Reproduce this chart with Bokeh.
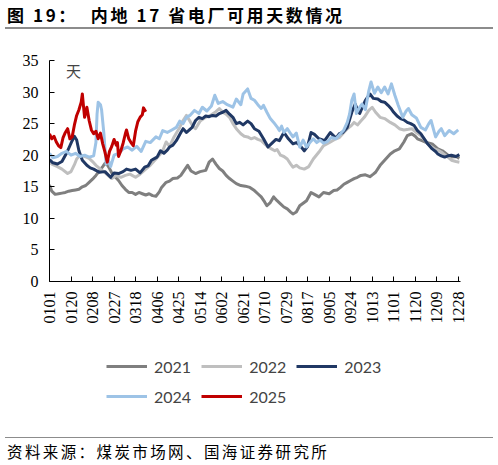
import math
from bokeh.plotting import figure
from bokeh.layouts import column
from bokeh.models import Range1d, Label, Legend, LegendItem, FixedTicker, Div
from bokeh.embed import file_html
from bokeh.resources import INLINE

tick_days = [1, 20, 39, 58, 77, 96, 115, 134, 153, 172, 191, 210, 229, 248, 267, 286, 305, 324, 343, 362]
tick_labels = ["0101", "0120", "0208", "0227", "0318", "0406", "0425", "0514", "0602", "0621",
               "0710", "0729", "0817", "0905", "0924", "1013", "1101", "1120", "1209", "1228"]

# (day of year, days of coal stock)
s2021 = [(1, 15.3), (3, 14.3), (6, 13.8), (9, 13.9), (12, 14.0), (15, 14.1), (18, 14.3), (21, 14.4),
         (24, 14.5), (27, 14.6), (30, 15.0), (33, 15.2), (36, 15.7), (39, 16.2), (42, 16.8), (45, 17.5),
         (48, 18.2), (50, 18.7), (52, 18.5), (54, 17.9), (56, 17.2), (59, 16.6), (62, 16.0), (65, 15.2),
         (68, 14.6), (71, 14.1), (74, 14.1), (77, 13.8), (80, 14.1), (83, 13.9), (86, 13.7), (89, 13.9),
         (92, 13.6), (95, 13.5), (98, 14.2), (100, 14.9), (104, 15.7), (107, 15.9), (110, 16.3), (114, 16.4),
         (117, 16.8), (120, 17.6), (123, 18.4), (126, 17.5), (130, 17.1), (134, 17.4), (139, 17.6), (142, 18.9),
         (145, 19.4), (148, 18.6), (151, 17.9), (154, 17.5), (157, 16.8), (160, 16.3), (163, 15.9), (166, 15.5),
         (170, 15.2), (174, 15.1), (178, 14.9), (182, 14.4), (185, 13.9), (188, 13.4), (191, 12.6), (193, 12.0),
         (196, 12.5), (199, 13.4), (202, 12.8), (205, 12.3), (208, 11.8), (211, 11.5), (214, 11.0), (216, 10.7),
         (219, 11.0), (222, 12.0), (225, 12.4), (228, 12.8), (232, 14.1), (235, 13.8), (239, 13.4), (243, 14.1),
         (248, 13.9), (252, 14.4), (255, 14.5), (258, 14.9), (261, 15.4), (264, 15.7), (267, 16.0), (270, 16.3),
         (273, 16.5), (276, 16.8), (280, 16.9), (284, 16.6), (287, 17.0), (289, 17.3), (293, 18.4), (297, 19.2),
         (302, 20.2), (306, 20.7), (310, 21.0), (314, 22.1), (317, 23.1), (321, 23.4), (324, 23.0), (326, 22.6),
         (330, 22.3), (334, 22.0), (339, 21.8), (344, 21.0), (348, 20.7), (353, 20.0), (356, 19.7), (360, 19.8),
         (363, 19.5)]

s2022 = [(1, 18.9), (4, 18.5), (8, 18.2), (12, 17.8), (17, 17.1), (20, 17.4), (23, 18.5), (25, 19.4),
         (28, 20.0), (32, 19.8), (36, 19.5), (39, 19.0), (42, 18.4), (46, 17.8), (51, 17.1), (56, 16.3),
         (60, 16.8), (64, 16.5), (68, 16.8), (72, 17.0), (77, 16.5), (81, 17.0), (86, 17.8), (90, 18.4),
         (95, 19.4), (98, 20.0), (101, 20.7), (104, 22.1), (107, 21.4), (111, 22.9), (114, 23.8), (116, 24.4),
         (119, 25.5), (122, 26.3), (125, 25.4), (127, 24.8), (130, 24.2), (134, 25.4), (139, 26.0), (144, 26.4),
         (148, 26.9), (151, 27.4), (154, 26.8), (157, 26.5), (160, 26.0), (163, 25.0), (166, 24.2), (170, 23.4),
         (173, 23.0), (176, 22.9), (179, 22.6), (182, 22.8), (185, 22.5), (188, 22.3), (191, 21.8), (194, 21.3),
         (197, 21.0), (200, 20.7), (202, 20.9), (205, 20.0), (208, 19.8), (211, 19.4), (214, 18.6), (216, 18.1),
         (219, 18.4), (222, 18.0), (226, 17.8), (230, 18.2), (234, 19.4), (239, 20.5), (243, 21.5), (248, 22.0),
         (251, 22.3), (254, 22.6), (257, 22.8), (260, 23.4), (264, 24.2), (267, 24.6), (270, 25.2), (273, 24.8),
         (276, 25.4), (279, 26.0), (283, 27.1), (286, 27.6), (289, 26.8), (293, 26.0), (297, 25.8), (302, 25.2),
         (306, 24.8), (310, 24.2), (314, 24.0), (318, 24.1), (321, 24.2), (325, 23.6), (329, 23.1), (332, 22.5),
         (335, 21.8), (338, 21.4), (341, 21.0), (344, 20.8), (347, 20.5), (350, 20.1), (353, 19.7), (356, 19.2),
         (360, 19.0), (363, 18.9)]

s2023 = [(1, 19.3), (4, 18.8), (8, 18.6), (12, 19.0), (16, 20.3), (19, 21.5), (21, 22.3), (23, 23.0),
         (25, 22.4), (27, 20.7), (30, 19.2), (34, 18.4), (37, 18.0), (40, 17.8), (45, 17.3), (50, 17.4),
         (55, 16.5), (58, 17.2), (62, 17.1), (66, 17.4), (69, 17.8), (73, 17.6), (77, 17.8), (81, 17.2),
         (85, 18.1), (88, 18.3), (91, 19.2), (94, 19.5), (96, 19.7), (99, 20.7), (102, 20.3), (105, 20.8),
         (107, 21.3), (110, 21.6), (113, 22.3), (117, 23.6), (119, 24.2), (122, 23.6), (125, 24.1), (127, 24.4),
         (130, 25.5), (133, 26.0), (136, 25.8), (139, 26.2), (142, 26.1), (145, 26.3), (148, 26.2), (151, 26.6),
         (154, 26.8), (157, 27.1), (160, 26.5), (163, 26.0), (166, 25.0), (169, 25.2), (172, 24.8), (176, 25.4),
         (179, 25.0), (182, 24.2), (186, 23.8), (190, 22.6), (194, 21.3), (198, 22.0), (201, 22.5), (204, 22.3),
         (208, 23.6), (212, 22.6), (216, 21.8), (219, 22.0), (222, 21.6), (226, 20.7), (229, 21.4), (232, 23.6),
         (235, 23.3), (239, 22.6), (244, 22.3), (249, 23.6), (254, 22.7), (257, 23.4), (260, 23.6), (264, 24.4),
         (266, 25.6), (268, 26.8), (271, 28.1), (273, 27.2), (275, 26.6), (278, 27.9), (280, 28.7), (284, 29.7),
         (287, 29.0), (291, 28.9), (294, 28.5), (297, 28.4), (300, 27.9), (303, 27.3), (305, 26.8), (308, 26.2),
         (311, 25.8), (314, 25.6), (317, 25.2), (320, 25.0), (323, 24.7), (326, 23.9), (329, 23.4), (332, 22.6),
         (335, 21.8), (339, 21.0), (342, 20.6), (344, 20.2), (347, 19.9), (350, 19.7), (353, 19.9), (356, 20.0),
         (360, 19.8), (363, 20.1)]

s2024 = [(1, 20.3), (4, 19.6), (8, 19.8), (12, 20.3), (16, 20.6), (20, 20.0), (24, 20.3), (28, 19.8),
         (32, 20.0), (36, 19.7), (40, 19.9), (42, 22.0), (43, 26.5), (44, 28.4), (46, 28.0), (47, 27.2),
         (49, 23.5), (51, 18.6), (53, 19.2), (55, 18.2), (58, 20.0), (62, 20.3), (66, 21.0), (70, 21.3),
         (74, 20.8), (78, 21.4), (82, 20.6), (86, 22.2), (90, 22.0), (95, 22.9), (98, 22.6), (101, 23.9),
         (105, 23.6), (109, 24.0), (113, 24.4), (116, 25.4), (119, 25.0), (122, 26.0), (125, 26.3), (129, 27.1),
         (133, 26.6), (136, 27.6), (140, 27.0), (144, 27.8), (147, 29.5), (150, 28.2), (154, 28.5), (158, 28.0),
         (163, 27.6), (166, 28.9), (170, 28.0), (172, 29.7), (176, 30.5), (179, 29.0), (182, 28.7), (185, 28.0),
         (188, 27.4), (190, 27.9), (193, 26.8), (196, 25.8), (199, 25.2), (202, 24.5), (204, 23.9), (206, 24.6),
         (208, 23.6), (211, 24.2), (214, 23.4), (216, 22.9), (219, 23.5), (222, 21.3), (225, 22.4), (228, 21.3),
         (231, 22.0), (234, 22.6), (237, 22.0), (240, 22.4), (243, 21.9), (246, 22.1), (250, 22.8), (254, 22.6),
         (258, 23.4), (261, 24.0), (264, 25.2), (266, 26.5), (268, 28.7), (270, 29.7), (272, 26.6), (275, 27.6),
         (277, 28.1), (280, 27.2), (283, 30.2), (285, 31.6), (288, 29.8), (291, 30.8), (294, 29.9), (297, 30.8),
         (300, 29.7), (303, 31.3), (306, 29.5), (309, 27.9), (313, 26.0), (316, 27.0), (318, 27.4), (321, 26.4),
         (325, 25.9), (329, 24.4), (333, 24.0), (336, 25.0), (338, 25.5), (342, 22.9), (345, 23.8), (347, 24.2),
         (350, 23.1), (354, 23.9), (358, 23.4), (362, 24.0)]

s2025 = [(1, 23.4), (3, 22.6), (5, 23.0), (7, 22.1), (9, 21.5), (11, 21.2), (13, 22.8), (15, 23.6),
         (17, 24.2), (19, 22.6), (21, 22.9), (23, 24.8), (25, 26.3), (27, 27.2), (29, 28.4), (30, 29.7),
         (31, 27.8), (32, 26.0), (34, 27.6), (36, 25.5), (38, 24.0), (40, 23.4), (42, 23.8), (44, 22.6),
         (46, 23.5), (48, 21.8), (50, 20.5), (52, 18.9), (54, 20.6), (56, 21.4), (58, 22.5), (60, 21.6),
         (61, 22.0), (62, 19.8), (64, 20.7), (66, 21.9), (68, 23.4), (69, 24.0), (71, 22.6), (73, 22.0),
         (75, 21.5), (77, 23.8), (79, 25.3), (81, 26.0), (83, 26.4), (84, 27.5), (86, 26.9)]

years = ["2021", "2022", "2023", "2024", "2025"]
series = [s2021, s2022, s2023, s2024, s2025]
colors = ["#7f7f7f", "#bfbfbf", "#203864", "#9dc3e6", "#c00000"]

serif = "'Liberation Serif', serif"
cjk = "Noto Sans CJK SC"

title = Div(text='<div style="width:488px;height:29px;margin-left:5px;border-bottom:2px solid #8c8c8c;'
                 'font-family:\'Noto Sans CJK SC\';font-weight:bold;font-size:17px;letter-spacing:2.6px;'
                 'line-height:30px;white-space:nowrap;color:#000;padding-left:2px;">'
                 '图 19：&nbsp;&nbsp;内地 17 省电厂可用天数情况</div>',
            width=498, height=32, margin=0)

# main chart: page y 32..350
p = figure(width=498, height=318, output_backend="svg", toolbar_location=None,
           x_range=Range1d(1, 364), y_range=Range1d(0, 35),
           min_border_left=49, min_border_right=38, min_border_top=28, min_border_bottom=69)
p.outline_line_color = None
p.grid.visible = False

for name, s, c in zip(years, series, colors):
    xs = [d for d, v in s]
    ys = [v for d, v in s]
    p.line(xs, ys, line_color=c, line_width=3, line_join="round")

p.xaxis.ticker = FixedTicker(ticks=tick_days)
p.xaxis.major_label_overrides = {d: t for d, t in zip(tick_days, tick_labels)}
p.xaxis.major_label_orientation = math.pi / 2
p.xaxis.minor_tick_line_color = None
p.xaxis.major_tick_in = 5
p.xaxis.major_tick_out = 0
p.xaxis.major_label_standoff = 10

p.yaxis.ticker = FixedTicker(ticks=[0, 5, 10, 15, 20, 25, 30, 35])
p.yaxis.minor_tick_line_color = None
p.yaxis.major_tick_in = 5
p.yaxis.major_tick_out = 0
p.yaxis.major_label_standoff = 11

for ax in [p.xaxis, p.yaxis]:
    ax.axis_line_color = "black"
    ax.major_tick_line_color = "black"
    ax.major_label_text_font = serif
    ax.major_label_text_font_size = "16px"
    ax.major_label_text_color = "black"

p.add_layout(Label(x=24, y=211, x_units="screen", y_units="screen", text="天",
                   text_font=cjk, text_font_size="15px", text_align="center", text_baseline="middle"))

# legend strip: page y 350..437
lg = figure(width=498, height=87, output_backend="svg", toolbar_location=None,
            x_range=Range1d(0, 1), y_range=Range1d(0, 1), min_border=0,
            x_axis_location=None, y_axis_location=None)
lg.outline_line_color = None
lg.grid.visible = False
items = []
for name, c in zip(years, colors):
    r = lg.line([float("nan")], [float("nan")], line_color=c, line_width=3)
    items.append(LegendItem(label=name, renderers=[r]))
legend = Legend(items=items, orientation="horizontal", ncols=3, location=(57, 31),
                padding=0, spacing=10, glyph_width=41, glyph_height=20, label_height=20,
                label_standoff=7, label_text_font="Lato", label_text_font_size="16px",
                border_line_color=None, background_fill_alpha=0)
lg.add_layout(legend, "center")

source = Div(text='<div style="width:488px;height:26px;margin-left:5px;border-top:1px solid #8c8c8c;'
                  'font-family:\'Noto Sans CJK SC\';font-size:15.5px;letter-spacing:2.4px;'
                  'line-height:27px;white-space:nowrap;color:#000;padding-left:2px;">'
                  '资料来源：煤炭市场网、国海证券研究所</div>',
             width=498, height=28, margin=0)

layout = column(title, p, lg, source, spacing=0)

open("out.html", "w").write(file_html(layout, INLINE))
